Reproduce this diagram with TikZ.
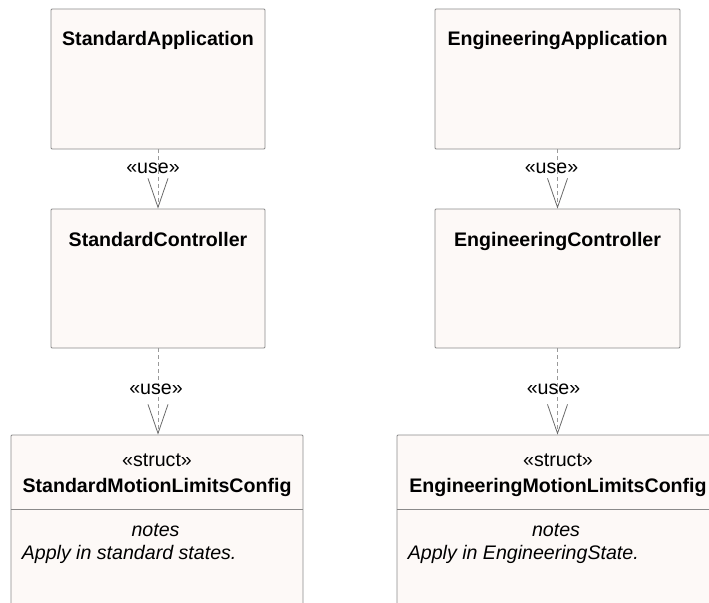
\documentclass[tikz,border=0pt]{standalone}
\usepackage{fontspec}
\setmainfont{Liberation Sans}
\usetikzlibrary{positioning,arrows.meta}
\definecolor{boxfill}{HTML}{FDF9F7}
\definecolor{boxline}{HTML}{8A8A8A}
\definecolor{dashline}{HTML}{9A9A9A}
\definecolor{tipline}{HTML}{6A6A6A}
\begin{document}
\begin{tikzpicture}[x=1pt,y=-1pt]
\tikzstyle{cls} = [draw=boxline, fill=boxfill, shape=rectangle, line width=0.8pt, rounded corners=1pt, inner sep=0pt]
\tikzstyle{ttl} = [font=\fontsize{19.6}{23}\selectfont\bfseries, inner sep=0pt, anchor=base]
\tikzstyle{txt} = [font=\fontsize{19.6}{23}\selectfont, inner sep=0pt, anchor=base]
\tikzstyle{note} = [font=\fontsize{19.6}{23}\selectfont\itshape, inner sep=0pt, anchor=base]
\tikzstyle{lbl} = [font=\fontsize{19.6}{23}\selectfont, inner sep=0pt, fill=none, draw=none]
\tikzstyle{usedep} = [draw=dashline, line width=0.8pt, dash pattern=on 4pt off 3pt, -{Straight Barb[length=29pt, width=20pt, color=tipline, line width=0.8pt]}]

\useasboundingbox (0,0) rectangle (709,602);
\clip (0,0) rectangle (709,602);

\coordinate (sep) at (0,509);

% standard side
\node[cls, minimum width=214pt, minimum height=140pt] (stdapp) at (158,79) {};
\node[cls, minimum width=214pt, minimum height=139pt] (stdctrl) at (158,278.5) {};
\node[cls, minimum width=292pt, minimum height=220pt] (stdcfg) at (157,545) {};

\node[ttl, yshift=-36.6pt] (stdappname) at (stdapp.north) {StandardApplication};
\node[ttl, yshift=-38pt] (stdctrlname) at (stdctrl.north) {StandardController};
\node[txt, yshift=-32pt] (stdcfgst) at (stdcfg.north) {«struct»};
\node[ttl, yshift=-58pt] (stdcfgname) at (stdcfg.north) {StandardMotionLimitsConfig};
\draw[boxline, line width=0.8pt] (stdcfg.west |- sep) -- (stdcfg.east |- sep);
\node[note, yshift=-101.5pt, xshift=-1.5pt] (stdnotes) at (stdcfg.north) {notes};
\node[note, anchor=base west, xshift=11pt, yshift=-124.5pt] (stdnotetxt) at (stdcfg.north west) {Apply in standard states.};

\draw[usedep] (stdapp) -- (stdctrl) node[lbl, pos=0.32, xshift=-5pt] {«use»};
\draw[usedep] (stdctrl) -- (stdcfg.north -| stdctrl) node[lbl, pos=0.47, xshift=-2pt] {«use»};

% engineering side
\node[cls, minimum width=245pt, minimum height=140pt] (engapp) at (557.5,79) {};
\node[cls, minimum width=245pt, minimum height=139pt] (engctrl) at (557.5,278.5) {};
\node[cls, minimum width=322pt, minimum height=220pt] (engcfg) at (558,545) {};

\node[ttl, yshift=-36.6pt] (engappname) at (engapp.north) {EngineeringApplication};
\node[ttl, yshift=-38pt] (engctrlname) at (engctrl.north) {EngineeringController};
\node[txt, yshift=-32pt] (engcfgst) at (engcfg.north) {«struct»};
\node[ttl, yshift=-58pt] (engcfgname) at (engcfg.north) {EngineeringMotionLimitsConfig};
\draw[boxline, line width=0.8pt] (engcfg.west |- sep) -- (engcfg.east |- sep);
\node[note, yshift=-101.5pt, xshift=-2pt] (engnotes) at (engcfg.north) {notes};
\node[note, anchor=base west, xshift=11pt, yshift=-124.5pt] (engnotetxt) at (engcfg.north west) {Apply in EngineeringState.};

\draw[usedep] (engapp) -- (engctrl) node[lbl, pos=0.32, xshift=-6pt] {«use»};
\draw[usedep] (engctrl) -- (engcfg.north -| engctrl) node[lbl, pos=0.47, xshift=-4pt] {«use»};

\end{tikzpicture}
\end{document}
